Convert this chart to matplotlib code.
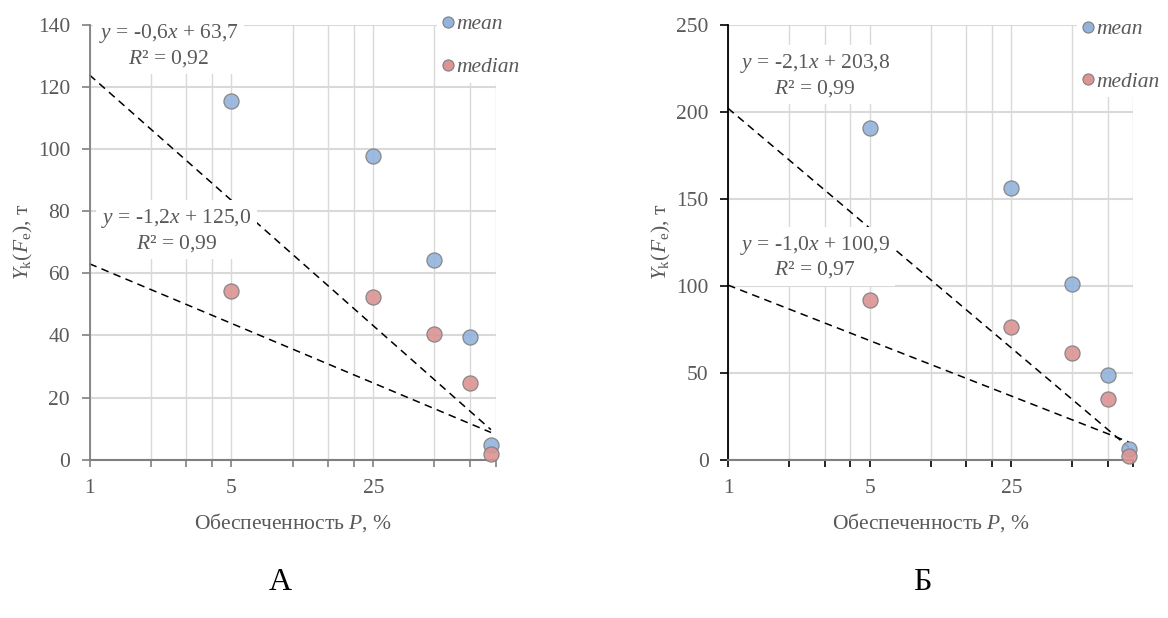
import numpy as np
import matplotlib
matplotlib.use("Agg")
import matplotlib.pyplot as plt
from matplotlib.ticker import FixedLocator, NullFormatter, FixedFormatter
from matplotlib.lines import Line2D

plt.rcParams['font.family'] = ['Liberation Serif', 'DejaVu Serif']
plt.rcParams['mathtext.fontset'] = 'custom'
plt.rcParams['mathtext.rm'] = 'Liberation Serif'
plt.rcParams['mathtext.it'] = 'Liberation Serif:italic'

# ---- data ----
P = [5, 25, 50, 75, 95]
mean_A = [115.3, 97.7, 64.3, 39.4, 4.7]
median_A = [54.4, 52.5, 40.3, 24.6, 1.9]
mean_B = [190.5, 155.8, 100.8, 48.6, 6.0]
median_B = [91.8, 76.5, 61.3, 34.9, 2.0]

eq_A_top = ["$y$ = -0,6$x$ + 63,7", "$R$² = 0,92"]
eq_A_bot = ["$y$ = -1,2$x$ + 125,0", "$R$² = 0,99"]
eq_B_top = ["$y$ = -2,1$x$ + 203,8", "$R$² = 0,99"]
eq_B_bot = ["$y$ = -1,0$x$ + 100,9", "$R$² = 0,97"]

x_major = [1, 5, 25]
x_minor = [2, 3, 4, 10, 15, 20, 50, 75, 100]
panel_letters = ["А", "Б"]

GRAY = '#595959'
GRID = '#d9d9d9'
MEAN_C = '#93b3dc'
MED_C = '#dc9494'
FS = 15.5

W, H = 1168, 618
fig = plt.figure(figsize=(W / 100, H / 100), dpi=100)


def px(x0, y0, x1, y1):
    return [x0 / W, 1 - y1 / H, (x1 - x0) / W, (y1 - y0) / H]


def panel(rect, mean, median, ymax, ystep, eq_top, eq_bot, eq_pos, leg_pos, letter, letter_x, spine_col, lab_spacing):
    ax = fig.add_axes(rect)
    ax.set_xscale('log')
    ax.set_xlim(1, 100)
    ax.set_ylim(0, ymax)
    ax.xaxis.set_major_locator(FixedLocator(x_major))
    ax.xaxis.set_major_formatter(FixedFormatter([str(v) for v in x_major]))
    ax.xaxis.set_minor_locator(FixedLocator(x_minor))
    ax.xaxis.set_minor_formatter(NullFormatter())
    ax.set_yticks(np.arange(0, ymax + 1, ystep))
    ax.tick_params(axis='both', which='both', direction='out', colors=spine_col,
                   labelcolor=GRAY, labelsize=FS)
    ax.tick_params(axis='x', which='both', length=5, width=1.2, pad=9)
    ax.tick_params(axis='y', length=6, width=1.2, pad=8)
    for s in ['top', 'right']:
        ax.spines[s].set_visible(False)
    ax.spines['left'].set_color(spine_col)
    ax.spines['bottom'].set_color('#7f7f7f')
    ax.spines['left'].set_linewidth(1.3)
    ax.spines['bottom'].set_linewidth(1.5)
    ax.grid(True, axis='y', color=GRID, lw=1.5, zorder=0)
    ax.grid(True, axis='x', which='both', color=GRID, lw=1.0, zorder=0)
    ax.set_axisbelow(True)

    # trend lines (linear fits, drawn between endpoints as Excel does)
    xs = np.array([1, max(P)])
    for ser in (mean, median):
        k, b = np.polyfit(P, ser, 1)
        ax.plot(xs, k * xs + b, color='black', lw=1.1, ls=(0, (5, 3.5)), zorder=2, clip_on=False)

    ax.scatter(P, mean, s=118, color=MEAN_C, edgecolor='#7f7f7f', lw=0.9, alpha=0.9, zorder=4, clip_on=False)
    ax.scatter(P, median, s=118, color=MED_C, edgecolor='#7f7f7f', lw=0.9, alpha=0.9, zorder=5, clip_on=False)

    # equation labels
    for (tx, ty), eq in zip(eq_pos, (eq_top, eq_bot)):
        fig.text(tx / W, 1 - ty / H, eq[0] + "\n" + eq[1], ha='center', va='center',
                 multialignment='center', color=GRAY, fontsize=FS, linespacing=1.15,
                 bbox=dict(fc='white', ec='none', pad=4), zorder=3)

    ax.set_xlabel("Обеспеченность $P$, %", color=GRAY, fontsize=FS, labelpad=9)
    ax.set_ylabel("$Y_\\mathrm{k}(F_\\mathrm{e})$, т", color=GRAY, fontsize=FS, labelpad=2)

    handles = [Line2D([], [], ls='none', marker='o', ms=8, mfc=MEAN_C, mec='#7f7f7f', mew=0.8),
               Line2D([], [], ls='none', marker='o', ms=8, mfc=MED_C, mec='#7f7f7f', mew=0.8)]
    leg = ax.legend(handles, ['mean', 'median'], loc='upper left',
                    bbox_to_anchor=(leg_pos[0] / W, 1 - leg_pos[1] / H), bbox_transform=fig.transFigure,
                    frameon=True, facecolor='white', edgecolor='none', framealpha=1,
                    prop={'family': 'Liberation Serif', 'style': 'italic', 'size': FS},
                    handlelength=0.5, handletextpad=0.15, labelspacing=lab_spacing,
                    borderpad=0.25, borderaxespad=0)
    for t in leg.get_texts():
        t.set_color(GRAY)

    fig.text(letter_x / W, 1 - 583 / H, letter, ha='center', va='center', fontsize=23, color='black')
    return ax


panel(px(89.5, 24.5, 495.5, 459.7), mean_A, median_A, 140, 20, eq_A_top, eq_A_bot,
      [(168.7, 45.5), (176.5, 230.5)], (437, 9), panel_letters[0], 280, '#808080', 1.05)
panel(px(728, 24.5, 1133.4, 459.7), mean_B, median_B, 250, 50, eq_B_top, eq_B_bot,
      [(814.8, 75.5), (814.8, 257)], (1077, 14), panel_letters[1], 922, '#000000', 1.5)

fig.savefig("out.png", dpi=100)
